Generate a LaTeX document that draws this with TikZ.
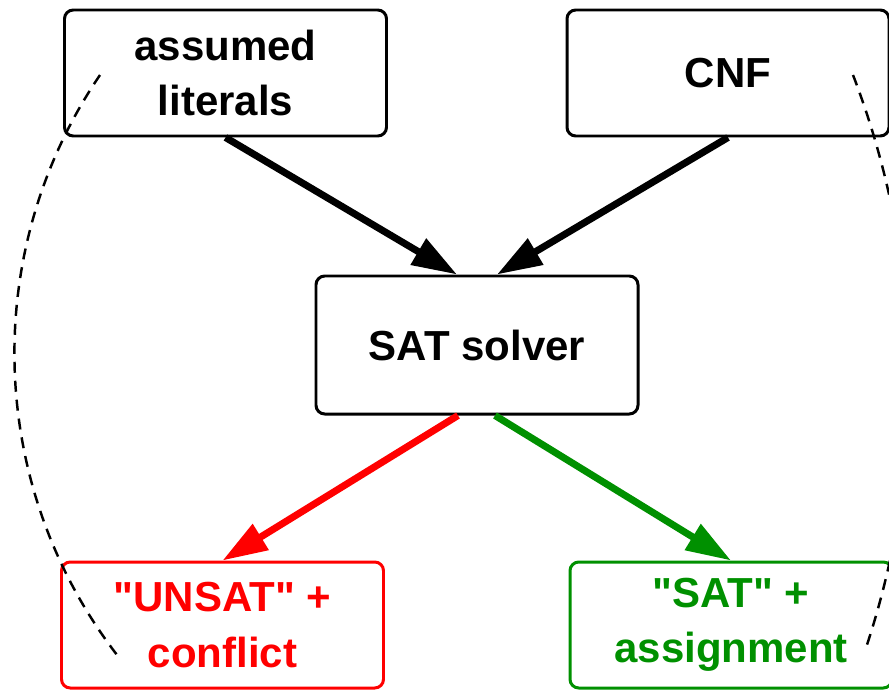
\documentclass[tikz,border=0pt]{standalone}
\usepackage{fontspec}
\setmainfont{Liberation Sans}[Ligatures=TeXOff]
\usetikzlibrary{arrows.meta}

\definecolor{satgreen}{RGB}{0,144,0}

\tikzset{
  box/.style={draw, rounded corners=2.5pt, line width=0.85pt, align=center,
    inner sep=0pt, minimum width=3.22cm, minimum height=1.26cm,
    font=\fontsize{11.95}{15.8}\selectfont\bfseries},
  flow/.style={-{Triangle[length=4.5mm, width=2.9mm]}, line width=2pt},
  loop/.style={line width=0.7pt, dash pattern=on 1.1mm off 0.8mm}
}

\begin{document}
\begin{tikzpicture}[scale=1.0]

\useasboundingbox (0,0) rectangle (8.89,6.89);
\clip (0,0) rectangle (8.89,6.89);

% inputs (top)
\node[box] (lits) at (2.255,6.16) {assumed\\literals};
\node[box] (cnf) at (7.28,6.16) {CNF};

% solver
\node[box, minimum height=1.38cm] (solver) at (4.77,3.44) {SAT solver};

% results (bottom)
\node[box, draw=red, text=red] (unsat) at (2.225,0.64) {"UNSAT" +\\conflict};
\node[box, draw=satgreen, text=satgreen] (sat) at (7.31,0.64) {"SAT" +\\assignment};

% Arrows
\draw[flow] (lits.south) -- ([xshift=-2mm]solver.north);
\draw[flow] (cnf.south) -- ([xshift=2mm]solver.north);
\draw[flow, red] ([xshift=-1.9mm]solver.south) -- (unsat.north);
\draw[flow, satgreen] ([xshift=1.8mm]solver.south) -- (sat.north);

% dashed loops
\coordinate (loopL) at (1.00,6.14);
\coordinate (loopR) at (8.53,6.14);
\draw[loop] (loopL) arc[start angle=145.8, end angle=218.3, radius=4.95];
\draw[loop] (loopR) arc[start angle=21, end angle=-18.6, radius=8.5];

\end{tikzpicture}
\end{document}
